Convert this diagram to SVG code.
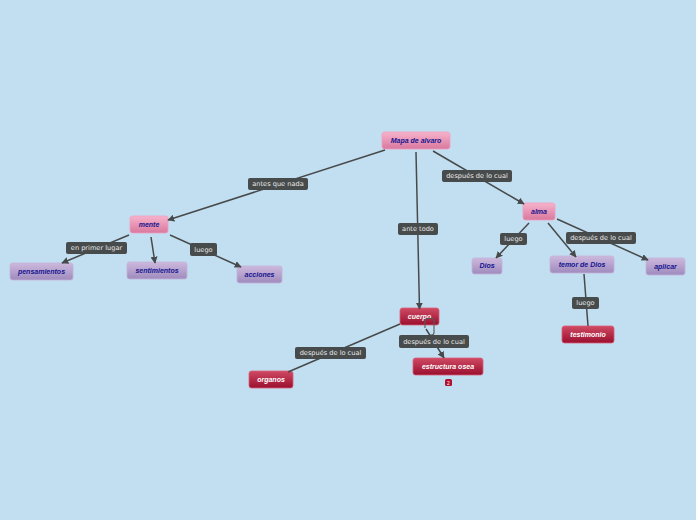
<svg xmlns="http://www.w3.org/2000/svg" width="696" height="520" viewBox="0 0 696 520">
<defs>
<linearGradient id="gPink" x1="0" y1="0" x2="0" y2="1"><stop offset="0" stop-color="#f6b3cb"/><stop offset="1" stop-color="#d9789e"/></linearGradient>
<linearGradient id="gPurple" x1="0" y1="0" x2="0" y2="1"><stop offset="0" stop-color="#cdb9dd"/><stop offset="1" stop-color="#9f8bbd"/></linearGradient>
<linearGradient id="gRed" x1="0" y1="0" x2="0" y2="1"><stop offset="0" stop-color="#d04a64"/><stop offset="1" stop-color="#9a0f2e"/></linearGradient>
<marker id="arr" viewBox="0 0 10 10" refX="9" refY="5" markerWidth="7" markerHeight="7" markerUnits="userSpaceOnUse" orient="auto"><path d="M0,0 L10,5 L0,10 z" fill="#474a4a"/></marker>
<style>
.pink{fill:url(#gPink);stroke:#f0a0c0;stroke-width:0.8}
.purple{fill:url(#gPurple);stroke:#c4b2d8;stroke-width:0.8}
.red{fill:url(#gRed);stroke:#d96078;stroke-width:0.8}
.nt{font-family:"Liberation Sans",Arial,sans-serif;font-size:7px;font-weight:bold;font-style:italic;text-anchor:middle;fill:#15158f}
.nw{font-family:"Liberation Sans",Arial,sans-serif;font-size:7px;font-weight:bold;font-style:italic;text-anchor:middle;fill:#ffffff}
.lb{fill:#474b4b}
.lt{font-family:"DejaVu Sans","Liberation Sans",sans-serif;font-size:6.6px;text-anchor:middle;fill:#e8e8e8}
.c{stroke:#474a4a;stroke-width:1.5;fill:none}
.cl{stroke:#555a5a;stroke-width:1.1;fill:none}
</style>
</defs>
<rect width="696" height="520" fill="#c2def1"/>
<g id="n-mapa"><rect class="pink" x="382" y="132" width="68" height="17" rx="2.5"/><text class="nt" x="416" y="142.8">Mapa de alvaro</text></g>
<g id="n-mente"><rect class="pink" x="130" y="216" width="38" height="17" rx="2.5"/><text class="nt" x="149" y="226.8">mente</text></g>
<g id="n-pensamientos"><rect class="purple" x="10" y="263" width="63" height="17" rx="2.5"/><text class="nt" x="41.5" y="273.8">pensamientos</text></g>
<g id="n-sentimientos"><rect class="purple" x="127" y="262" width="60" height="17" rx="2.5"/><text class="nt" x="157" y="272.8">sentimientos</text></g>
<g id="n-acciones"><rect class="purple" x="237" y="266" width="45" height="17" rx="2.5"/><text class="nt" x="259.5" y="276.8">acciones</text></g>
<g id="n-alma"><rect class="pink" x="523" y="203" width="32" height="17" rx="2.5"/><text class="nt" x="539" y="213.8">alma</text></g>
<g id="n-dios"><rect class="purple" x="472" y="258" width="30" height="16" rx="2.5"/><text class="nt" x="487" y="268.3">Dios</text></g>
<g id="n-temor"><rect class="purple" x="550" y="256" width="64" height="17" rx="2.5"/><text class="nt" x="582" y="266.8">temor de Dios</text></g>
<g id="n-aplicar"><rect class="purple" x="646" y="258" width="39" height="17" rx="2.5"/><text class="nt" x="665.5" y="268.8">aplicar</text></g>
<g id="n-testimonio"><rect class="red" x="562" y="326" width="52" height="17" rx="2.5"/><text class="nw" x="588" y="336.8">testimonio</text></g>
<g id="n-cuerpo"><rect class="red" x="400" y="308" width="39" height="17" rx="2.5"/><text class="nw" x="419.5" y="318.8">cuerpo</text></g>
<g id="n-organos"><rect class="red" x="249" y="371" width="44" height="17" rx="2.5"/><text class="nw" x="271" y="381.8">organos</text></g>
<g id="n-estructura"><rect class="red" x="413" y="358" width="70" height="17" rx="2.5"/><text class="nw" x="448" y="368.8">estructura osea</text>
<rect x="445" y="379" width="7" height="7" rx="1.5" fill="#b0102e"/><text x="448.5" y="384.6" font-family="Liberation Sans,Arial,sans-serif" font-size="5px" fill="#fff" text-anchor="middle">2</text></g>
<g id="connectors">
<path class="c" d="M385,150 L168,220" marker-end="url(#arr)"/>
<path class="c" d="M416,152 L419.5,309" marker-end="url(#arr)"/>
<path class="c" d="M433,151 L524,204" marker-end="url(#arr)"/>
<path class="c" d="M129,235 L62,263" marker-end="url(#arr)"/>
<path class="c" d="M151,237 L155,263" marker-end="url(#arr)"/>
<path class="c" d="M170,235 L241,267" marker-end="url(#arr)"/>
<path class="c" d="M529,223 L496,258" marker-end="url(#arr)"/>
<path class="c" d="M548,223 L576,257" marker-end="url(#arr)"/>
<path class="c" d="M557,219 L648,260" marker-end="url(#arr)"/>
<path class="c" d="M584,274 L588,326"/>
<path class="c" d="M400,324 L288,372"/>
<path class="cl" d="M425,328 L425,321 Q425,318.5 427.5,318.5 L431.5,318.5 Q434,318.5 434,321 L434,332.5 Q434,335 431.5,335 L429,335"/>
<path class="c" d="M426,329 L444,358" marker-end="url(#arr)"/>
</g>
<g id="lbl-antes"><rect class="lb" x="248" y="178" width="60" height="12" rx="2"/><text class="lt" x="278" y="186.3">antes que nada</text></g>
<g id="lbl-despues1"><rect class="lb" x="442" y="170" width="70" height="12" rx="2"/><text class="lt" x="477" y="178.3">después de lo cual</text></g>
<g id="lbl-antetodo"><rect class="lb" x="398" y="223" width="40" height="12" rx="2"/><text class="lt" x="418" y="231.3">ante todo</text></g>
<g id="lbl-primer"><rect class="lb" x="66" y="242" width="61" height="12" rx="2"/><text class="lt" x="96.5" y="250.3">en primer lugar</text></g>
<g id="lbl-luego1"><rect class="lb" x="190" y="243" width="27" height="13" rx="2"/><text class="lt" x="203.5" y="251.8">luego</text></g>
<g id="lbl-luego2"><rect class="lb" x="500" y="233" width="27" height="12" rx="2"/><text class="lt" x="513.5" y="241.3">luego</text></g>
<g id="lbl-despues2"><rect class="lb" x="566" y="232" width="70" height="12" rx="2"/><text class="lt" x="601" y="240.3">después de lo cual</text></g>
<g id="lbl-luego3"><rect class="lb" x="572" y="297" width="27" height="12" rx="2"/><text class="lt" x="585.5" y="305.3">luego</text></g>
<g id="lbl-despues3"><rect class="lb" x="295" y="347" width="71" height="12" rx="2"/><text class="lt" x="330.5" y="355.3">después de lo cual</text></g>
<g id="lbl-despues4"><rect class="lb" x="399" y="335" width="70" height="13" rx="2"/><text class="lt" x="434" y="343.8">después de lo cual</text></g>
</svg>
